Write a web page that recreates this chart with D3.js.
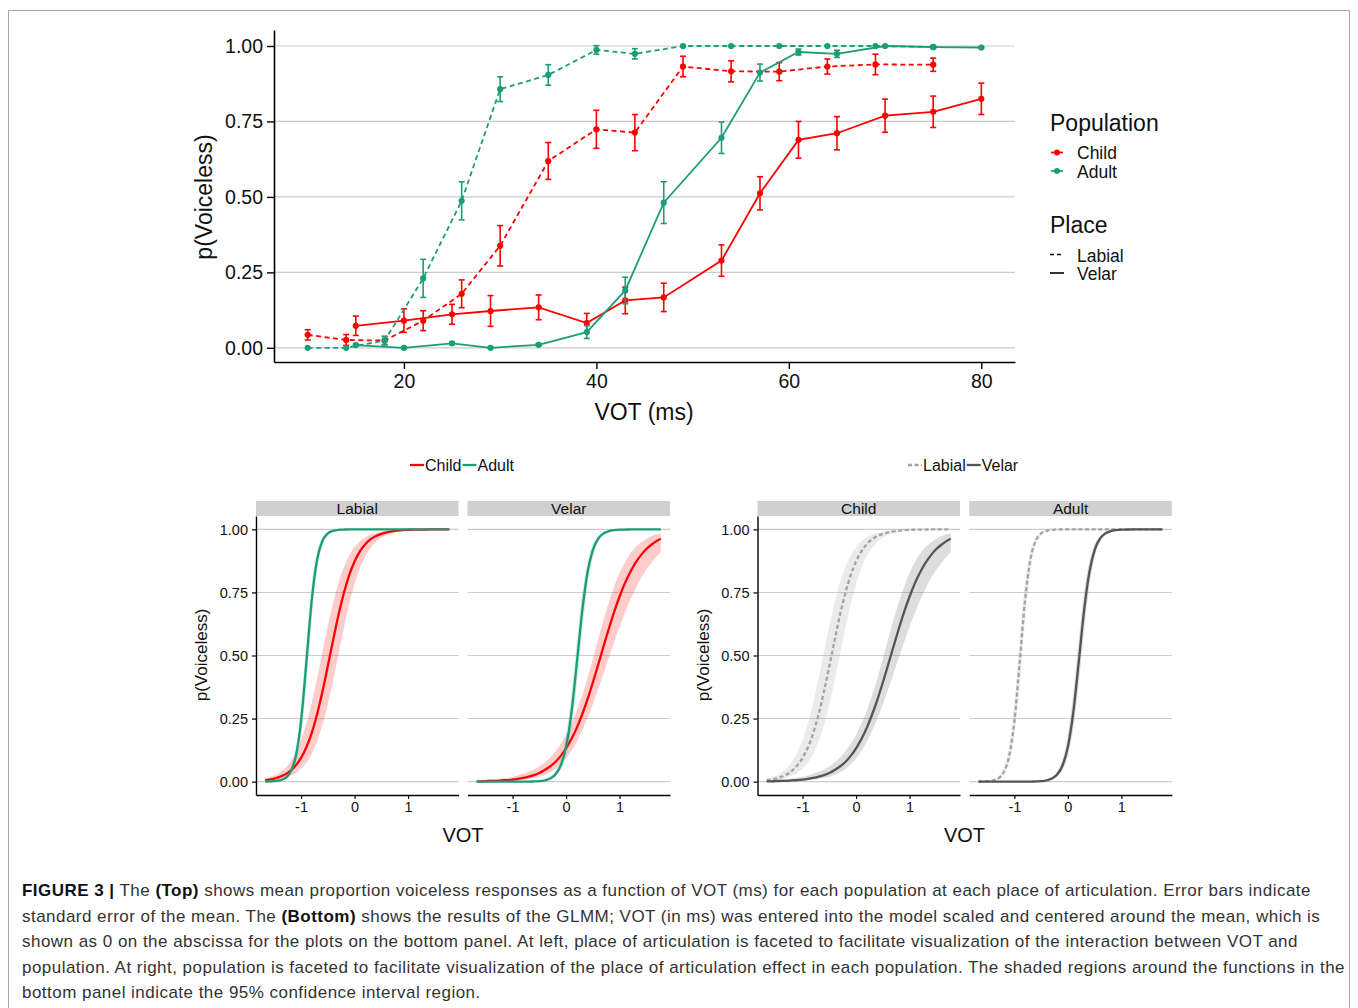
<!DOCTYPE html>
<html>
<head>
<meta charset="utf-8">
<script src="https://cdn.jsdelivr.net/npm/d3@7"></script>
<style>
  body { margin: 0; background: #fff; }
  svg { display: block; }
  text { font-family: "Liberation Sans", Arial, Helvetica, sans-serif; }
</style>
</head>
<body>
<svg id="fig" width="1358" height="1008"></svg>
<script>
// ---------- Top panel: mean proportion voiceless by VOT (ms) ----------
const labialVot = [10, 14, 18, 22, 26, 30, 35, 40, 44, 49, 54, 59, 64, 69, 75];
const velarVot  = [15, 20, 25, 29, 34, 39, 43, 47, 53, 57, 61, 65, 70, 75, 80];

const childLabialP  = [0.043, 0.026, 0.024, 0.090, 0.179, 0.338, 0.619, 0.724, 0.713, 0.932, 0.916, 0.915, 0.932, 0.939, 0.938];
const childLabialSE = [0.017, 0.018, 0.014, 0.033, 0.046, 0.067, 0.061, 0.063, 0.060, 0.034, 0.035, 0.030, 0.025, 0.034, 0.022];
const adultLabialP  = [0.000, 0.000, 0.024, 0.230, 0.487, 0.857, 0.904, 0.987, 0.974, 1.000, 1.000, 1.000, 1.000, 1.000, 0.997];
const adultLabialSE = [0.000, 0.000, 0.013, 0.063, 0.063, 0.041, 0.034, 0.014, 0.017, 0.000, 0.000, 0.000, 0.000, 0.000, 0.003];

const childVelarP  = [0.073, 0.090, 0.111, 0.122, 0.134, 0.082, 0.157, 0.167, 0.289, 0.512, 0.689, 0.711, 0.769, 0.782, 0.825];
const childVelarSE = [0.032, 0.039, 0.033, 0.051, 0.041, 0.032, 0.044, 0.047, 0.052, 0.055, 0.061, 0.055, 0.055, 0.052, 0.052];
const adultVelarP  = [0.009, 0.000, 0.015, 0.000, 0.010, 0.052, 0.190, 0.481, 0.696, 0.912, 0.980, 0.974, 1.000, 0.996, 0.995];
const adultVelarSE = [0.004, 0.003, 0.005, 0.002, 0.004, 0.021, 0.044, 0.069, 0.052, 0.028, 0.010, 0.012, 0.002, 0.004, 0.002];

const pTicks = [0, 0.25, 0.5, 0.75, 1];
const votMsTicks = [20, 40, 60, 80];

// ---------- Bottom panels: GLMM fitted curves with 95% CI (scaled VOT) ----------
const glmmVot = [-1.67, -1.6, -1.5, -1.4, -1.3, -1.2, -1.1, -1.0, -0.9, -0.8, -0.7, -0.6, -0.5, -0.4, -0.3, -0.2, -0.1,
                 0, 0.1, 0.2, 0.3, 0.4, 0.5, 0.6, 0.7, 0.8, 0.9, 1.0, 1.1, 1.2, 1.3, 1.4, 1.5, 1.6, 1.7, 1.77];

const childLabialFit = [0.006, 0.008, 0.012, 0.019, 0.028, 0.043, 0.064, 0.094, 0.136, 0.193, 0.267, 0.357, 0.458, 0.562, 0.662, 0.748, 0.819,
                        0.873, 0.913, 0.941, 0.961, 0.974, 0.982, 0.988, 0.992, 0.995, 0.997, 0.998, 0.999, 0.999, 0.999, 1, 1, 1, 1, 1];
const childLabialLo  = [0.003, 0.004, 0.007, 0.010, 0.015, 0.023, 0.034, 0.051, 0.076, 0.111, 0.160, 0.224, 0.306, 0.401, 0.505, 0.608, 0.703,
                        0.782, 0.846, 0.893, 0.927, 0.951, 0.967, 0.978, 0.985, 0.990, 0.994, 0.996, 0.997, 0.998, 0.999, 0.999, 1, 1, 1, 1];
const childLabialHi  = [0.012, 0.016, 0.024, 0.036, 0.053, 0.079, 0.115, 0.165, 0.231, 0.314, 0.411, 0.515, 0.618, 0.711, 0.789, 0.851, 0.897,
                        0.930, 0.953, 0.968, 0.979, 0.986, 0.991, 0.994, 0.996, 0.997, 0.998, 0.999, 0.999, 1, 1, 1, 1, 1, 1, 1];

const adultLabialFit = [0, 0.001, 0.002, 0.005, 0.013, 0.037, 0.099, 0.239, 0.474, 0.720, 0.880, 0.955, 0.984, 0.994, 0.998, 0.999, 1,
                        1, 1, 1, 1, 1, 1, 1, 1, 1, 1, 1, 1, 1, 1, 1, 1, 1, 1, 1];
const adultLabialLo  = [0, 0, 0.001, 0.003, 0.009, 0.026, 0.072, 0.181, 0.388, 0.644, 0.838, 0.937, 0.977, 0.992, 0.997, 0.999, 1,
                        1, 1, 1, 1, 1, 1, 1, 1, 1, 1, 1, 1, 1, 1, 1, 1, 1, 1, 1];
const adultLabialHi  = [0, 0.001, 0.002, 0.007, 0.019, 0.052, 0.135, 0.308, 0.561, 0.785, 0.913, 0.968, 0.988, 0.996, 0.999, 1, 1,
                        1, 1, 1, 1, 1, 1, 1, 1, 1, 1, 1, 1, 1, 1, 1, 1, 1, 1, 1];

const childVelarFit = [0.001, 0.001, 0.002, 0.003, 0.003, 0.005, 0.006, 0.008, 0.011, 0.015, 0.020, 0.026, 0.034, 0.046, 0.060, 0.078, 0.102,
                       0.132, 0.169, 0.213, 0.266, 0.326, 0.393, 0.464, 0.536, 0.607, 0.674, 0.734, 0.787, 0.831, 0.868, 0.898, 0.922, 0.940, 0.955, 0.963];
const childVelarLo  = [0, 0, 0.001, 0.001, 0.001, 0.002, 0.003, 0.004, 0.005, 0.007, 0.010, 0.014, 0.019, 0.027, 0.037, 0.050, 0.069,
                       0.092, 0.122, 0.158, 0.202, 0.251, 0.307, 0.366, 0.428, 0.492, 0.554, 0.613, 0.669, 0.720, 0.766, 0.806, 0.840, 0.869, 0.894, 0.909];
const childVelarHi  = [0.004, 0.005, 0.006, 0.008, 0.010, 0.012, 0.015, 0.019, 0.024, 0.031, 0.039, 0.048, 0.061, 0.076, 0.096, 0.120, 0.149,
                       0.185, 0.229, 0.281, 0.342, 0.411, 0.486, 0.564, 0.641, 0.712, 0.775, 0.828, 0.870, 0.904, 0.930, 0.949, 0.963, 0.974, 0.981, 0.985];

const adultVelarFit = [0, 0, 0, 0, 0, 0, 0, 0, 0, 0, 0, 0.001, 0.002, 0.005, 0.012, 0.028, 0.064,
                       0.138, 0.273, 0.468, 0.673, 0.828, 0.918, 0.963, 0.984, 0.993, 0.997, 0.999, 0.999, 1, 1, 1, 1, 1, 1, 1];
const adultVelarLo  = [0, 0, 0, 0, 0, 0, 0, 0, 0, 0, 0, 0.001, 0.002, 0.004, 0.009, 0.020, 0.046,
                       0.102, 0.209, 0.382, 0.591, 0.772, 0.888, 0.949, 0.977, 0.990, 0.996, 0.998, 0.999, 1, 1, 1, 1, 1, 1, 1];
const adultVelarHi  = [0, 0, 0, 0, 0, 0, 0, 0, 0, 0, 0.001, 0.001, 0.003, 0.008, 0.017, 0.040, 0.089,
                       0.185, 0.348, 0.555, 0.745, 0.872, 0.941, 0.974, 0.989, 0.995, 0.998, 0.999, 1, 1, 1, 1, 1, 1, 1, 1];

const scaledVotTicks = [-1, 0, 1];

// ---------- caption ----------
const captionLines = [
  [["FIGURE 3 |", true], [" The ", false], ["(Top)", true], [" shows mean proportion voiceless responses as a function of VOT (ms) for each population at each place of articulation. Error bars indicate", false]],
  [["standard error of the mean. The ", false], ["(Bottom)", true], [" shows the results of the GLMM; VOT (in ms) was entered into the model scaled and centered around the mean, which is", false]],
  [["shown as 0 on the abscissa for the plots on the bottom panel. At left, place of articulation is faceted to facilitate visualization of the interaction between VOT and", false]],
  [["population. At right, population is faceted to facilitate visualization of the place of articulation effect in each population. The shaded regions around the functions in the", false]],
  [["bottom panel indicate the 95% confidence interval region.", false]]
];

// ====================== drawing ======================
const RED = "#ff0000";
const TEAL = "#1b9e77";
const GRID = "#cccccc";
const INK = "#111111";
const LABIAL_GREY = "#a3a3a3";
const VELAR_GREY = "#555555";
const plainNumber = d => String(d);

const svg = d3.select("#fig");

// figure frame
svg.append("rect")
  .attr("x", 8.5).attr("y", 10.5).attr("width", 1341).attr("height", 1010)
  .attr("fill", "none").attr("stroke", "#a8a8a8").attr("stroke-width", 1);

// ---------- top chart ----------
const gTop = svg.append("g");
const xT = d3.scaleLinear().domain([6.5, 83.5]).range([274, 1015]);
const yT = d3.scaleLinear().domain([-0.047, 1.053]).range([362, 30]);

gTop.selectAll("line.grid").data(pTicks).join("line")
  .attr("class", "grid")
  .attr("x1", xT.range()[0]).attr("x2", xT.range()[1])
  .attr("y1", d => yT(d)).attr("y2", d => yT(d))
  .attr("stroke", GRID).attr("stroke-width", 1.2);

const yAxT = gTop.append("g").attr("transform", `translate(${xT.range()[0]},0)`)
  .call(d3.axisLeft(yT).tickValues(pTicks).tickFormat(d3.format(".2f")).tickSize(7).tickSizeOuter(0).tickPadding(4));
const xAxT = gTop.append("g").attr("transform", `translate(0,${yT.range()[0]})`)
  .call(d3.axisBottom(xT).tickValues(votMsTicks).tickFormat(plainNumber).tickSize(7).tickSizeOuter(0).tickPadding(5));
[yAxT, xAxT].forEach(ax => {
  ax.select(".domain").attr("stroke", "#000").attr("stroke-width", 1.6);
  ax.selectAll(".tick line").attr("stroke", "#000").attr("stroke-width", 1.4);
  ax.selectAll("text").attr("font-size", 19.5).attr("fill", INK).style("font-family", "'Liberation Sans', Arial, sans-serif");
});

gTop.append("text").attr("x", 644).attr("y", 420).attr("text-anchor", "middle")
  .attr("font-size", 23).attr("fill", INK).text("VOT (ms)");
gTop.append("text").attr("transform", "translate(212,197) rotate(-90)").attr("text-anchor", "middle")
  .attr("font-size", 23).attr("fill", INK).text("p(Voiceless)");

const topSeries = [
  { color: RED,  dashed: true,  vot: labialVot, p: childLabialP, se: childLabialSE },
  { color: RED,  dashed: false, vot: velarVot,  p: childVelarP,  se: childVelarSE },
  { color: TEAL, dashed: true,  vot: labialVot, p: adultLabialP, se: adultLabialSE },
  { color: TEAL, dashed: false, vot: velarVot,  p: adultVelarP,  se: adultVelarSE }
];

const topLine = d3.line().x(d => xT(d.v)).y(d => yT(d.p));
topSeries.forEach(s => {
  const pts = s.vot.map((v, i) => ({ v, p: s.p[i], se: s.se[i] }));
  const g = gTop.append("g");
  g.append("path").datum(pts).attr("d", topLine)
    .attr("fill", "none").attr("stroke", s.color).attr("stroke-width", 1.8)
    .attr("stroke-dasharray", s.dashed ? "5,3.5" : null);
  const eb = g.selectAll("g.eb").data(pts.filter(d => d.se > 0)).join("g").attr("class", "eb")
    .attr("stroke", s.color).attr("stroke-width", 1.6);
  eb.append("line").attr("x1", d => xT(d.v)).attr("x2", d => xT(d.v))
    .attr("y1", d => yT(d.p - d.se)).attr("y2", d => yT(d.p + d.se));
  eb.append("line").attr("x1", d => xT(d.v) - 3).attr("x2", d => xT(d.v) + 3)
    .attr("y1", d => yT(d.p - d.se)).attr("y2", d => yT(d.p - d.se));
  eb.append("line").attr("x1", d => xT(d.v) - 3).attr("x2", d => xT(d.v) + 3)
    .attr("y1", d => yT(d.p + d.se)).attr("y2", d => yT(d.p + d.se));
  g.selectAll("circle").data(pts).join("circle")
    .attr("cx", d => xT(d.v)).attr("cy", d => yT(d.p)).attr("r", 3.1).attr("fill", s.color);
});

// top legend
const lg = gTop.append("g");
lg.append("text").attr("x", 1050).attr("y", 131).attr("font-size", 23).attr("fill", INK).text("Population");
[["Child", RED, 152.5, 159], ["Adult", TEAL, 171, 177.5]].forEach(([lab, col, sy, ty]) => {
  lg.append("line").attr("x1", 1051).attr("x2", 1063).attr("y1", sy).attr("y2", sy).attr("stroke", col).attr("stroke-width", 1.8);
  lg.append("circle").attr("cx", 1057).attr("cy", sy).attr("r", 3).attr("fill", col);
  lg.append("text").attr("x", 1077).attr("y", ty).attr("font-size", 17.5).attr("fill", INK).text(lab);
});
lg.append("text").attr("x", 1050).attr("y", 233).attr("font-size", 23).attr("fill", INK).text("Place");
[["Labial", "4,3", 254.5, 261.5], ["Velar", null, 273, 280]].forEach(([lab, dash, sy, ty]) => {
  lg.append("line").attr("x1", 1050).attr("x2", 1064).attr("y1", sy).attr("y2", sy)
    .attr("stroke", "#000").attr("stroke-width", 1.6).attr("stroke-dasharray", dash);
  lg.append("text").attr("x", 1077).attr("y", ty).attr("font-size", 17.5).attr("fill", INK).text(lab);
});

// ---------- bottom panels ----------
const PANEL_W = 202.5;
const yB = d3.scaleLinear().domain([-0.053, 1.053]).range([795, 516]);
const stripTop = 501;

function curveLayer(fit, lo, hi, color, band, dash, bandOpacity) {
  return { fit, lo, hi, color, band, dash, bandOpacity };
}

const panels = [
  { x0: 256,   label: "Labial", yAxis: true,
    layers: [curveLayer(childLabialFit, childLabialLo, childLabialHi, RED, RED, null, 0.2),
             curveLayer(adultLabialFit, adultLabialLo, adultLabialHi, TEAL, TEAL, null, 0.2)] },
  { x0: 467.5, label: "Velar", yAxis: false,
    layers: [curveLayer(childVelarFit, childVelarLo, childVelarHi, RED, RED, null, 0.2),
             curveLayer(adultVelarFit, adultVelarLo, adultVelarHi, TEAL, TEAL, null, 0.2)] },
  { x0: 757.5, label: "Child", yAxis: true,
    layers: [curveLayer(childLabialFit, childLabialLo, childLabialHi, LABIAL_GREY, "#999999", "4,2.6", 0.2),
             curveLayer(childVelarFit, childVelarLo, childVelarHi, VELAR_GREY, VELAR_GREY, null, 0.2)] },
  { x0: 969.3, label: "Adult", yAxis: false,
    layers: [curveLayer(adultLabialFit, adultLabialLo, adultLabialHi, LABIAL_GREY, "#999999", "4,2.6", 0.2),
             curveLayer(adultVelarFit, adultVelarLo, adultVelarHi, VELAR_GREY, VELAR_GREY, null, 0.2)] }
];

panels.forEach(pn => {
  const g = svg.append("g");
  const xB = d3.scaleLinear().domain([-1.842, 1.942]).range([pn.x0, pn.x0 + PANEL_W]);

  g.append("rect").attr("x", pn.x0).attr("y", stripTop).attr("width", PANEL_W).attr("height", yB.range()[1] - stripTop)
    .attr("fill", "#d0d0d0");
  g.append("text").attr("x", pn.x0 + PANEL_W / 2).attr("y", 513.5).attr("text-anchor", "middle")
    .attr("font-size", 15.5).attr("fill", INK).text(pn.label);

  g.selectAll("line.grid").data(pTicks).join("line").attr("class", "grid")
    .attr("x1", pn.x0).attr("x2", pn.x0 + PANEL_W)
    .attr("y1", d => yB(d)).attr("y2", d => yB(d))
    .attr("stroke", GRID).attr("stroke-width", 1.1);

  const area = d3.area().curve(d3.curveMonotoneX).x(d => xB(d.v)).y0(d => yB(d.lo)).y1(d => yB(d.hi));
  const line = d3.line().curve(d3.curveMonotoneX).x(d => xB(d.v)).y(d => yB(d.fit));
  const rows = pn.layers.map(l => glmmVot.map((v, i) => ({ v, fit: l.fit[i], lo: l.lo[i], hi: l.hi[i] })));

  pn.layers.forEach((l, k) => {
    g.append("path").datum(rows[k]).attr("d", area).attr("fill", l.band).attr("fill-opacity", l.bandOpacity);
  });
  pn.layers.forEach((l, k) => {
    g.append("path").datum(rows[k]).attr("d", line).attr("fill", "none")
      .attr("stroke", l.color).attr("stroke-width", 2.3).attr("stroke-dasharray", l.dash);
  });

  const xAx = g.append("g").attr("transform", `translate(0,${yB.range()[0]})`)
    .call(d3.axisBottom(xB).tickValues(scaledVotTicks).tickFormat(plainNumber).tickSize(4).tickSizeOuter(0).tickPadding(3));
  xAx.select(".domain").attr("stroke", "#000").attr("stroke-width", 1.4);
  xAx.selectAll(".tick line").attr("stroke", "#000").attr("stroke-width", 1.2);
  xAx.selectAll("text").attr("font-size", 14.5).attr("fill", INK).style("font-family", "'Liberation Sans', Arial, sans-serif");

  if (pn.yAxis) {
    const yAx = g.append("g").attr("transform", `translate(${pn.x0},0)`)
      .call(d3.axisLeft(yB).tickValues(pTicks).tickFormat(d3.format(".2f")).tickSize(4).tickSizeOuter(0).tickPadding(4));
    yAx.select(".domain").attr("stroke", "#000").attr("stroke-width", 1.4);
    yAx.selectAll(".tick line").attr("stroke", "#000").attr("stroke-width", 1.2);
    yAx.selectAll("text").attr("font-size", 14.5).attr("fill", INK).style("font-family", "'Liberation Sans', Arial, sans-serif");
  }
});

// bottom axis titles
[[463, 207], [964.5, 709]].forEach(([cx, lx]) => {
  svg.append("text").attr("x", cx).attr("y", 842).attr("text-anchor", "middle")
    .attr("font-size", 20).attr("fill", INK).text("VOT");
  svg.append("text").attr("transform", `translate(${lx},655) rotate(-90)`).attr("text-anchor", "middle")
    .attr("font-size", 17).attr("fill", INK).text("p(Voiceless)");
});

// bottom inline legends
function inlineLegend(x, y, items) {
  const g = svg.append("g");
  let cx = x;
  items.forEach(it => {
    g.append("line").attr("x1", cx).attr("x2", cx + 14).attr("y1", y).attr("y2", y)
      .attr("stroke", it.color).attr("stroke-width", 2.3).attr("stroke-dasharray", it.dash);
    cx += 15;
    const t = g.append("text").attr("x", cx).attr("y", y + 5.5).attr("font-size", 16).attr("fill", INK).text(it.label);
    cx += t.node().getComputedTextLength() + 1;
  });
}
inlineLegend(410, 465, [{ label: "Child", color: RED }, { label: "Adult", color: TEAL }]);
inlineLegend(908, 465, [{ label: "Labial", color: LABIAL_GREY, dash: "4,2.6" }, { label: "Velar", color: VELAR_GREY }]);

// ---------- caption ----------
const cap = svg.append("g");
const capBase = [896, 921.5, 947, 972.5, 998];
captionLines.forEach((segs, i) => {
  const t = cap.append("text").attr("x", 22).attr("y", capBase[i]).attr("font-size", 17)
    .attr("letter-spacing", 0.47).attr("fill", "#333");
  segs.forEach(([s, bold]) => {
    t.append("tspan").attr("font-weight", bold ? "bold" : null).attr("fill", bold ? "#111" : null).text(s);
  });
});
</script>
</body>
</html>
